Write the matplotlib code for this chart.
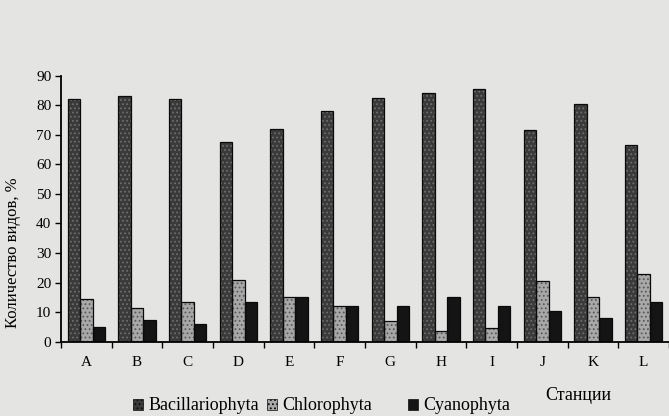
import matplotlib
matplotlib.use("Agg")
import matplotlib.pyplot as plt
import numpy as np

# station data, % of species
stations = ["A", "B", "C", "D", "E", "F", "G", "H", "I", "J", "K", "L"]
bacillariophyta = [82, 83, 82, 67.5, 72, 78, 82.5, 84, 85.5, 71.5, 80.5, 66.5]
chlorophyta = [14.5, 11.5, 13.5, 21, 15, 12, 7, 3.5, 4.5, 20.5, 15, 23]
cyanophyta = [5, 7.5, 6, 13.5, 15, 12, 12, 15, 12, 10.5, 8, 13.5]
series_names = ["Bacillariophyta", "Chlorophyta", "Cyanophyta"]

plt.rcParams['font.family'] = ['Liberation Serif', 'DejaVu Serif']
plt.rcParams['hatch.linewidth'] = 0.8

bg = "#e4e4e2"
fig = plt.figure(figsize=(6.69, 4.16), dpi=100, facecolor=bg)
ax = fig.add_axes([61/669, 74.3/416, 1 - 61/669, 0.6394])
ax.set_facecolor(bg)

x = np.arange(len(stations))
w = 0.245
b1 = ax.bar(x - w, bacillariophyta, w, color="#3a3a3a", edgecolor="#0a0a0a",
            hatch="....", linewidth=0.9, label=series_names[0])
b2 = ax.bar(x, chlorophyta, w, color="#a8a8a8", edgecolor="#1a1a1a",
            hatch="....", linewidth=0.9, label=series_names[1])
b3 = ax.bar(x + w, cyanophyta, w, color="#141414", edgecolor="#0a0a0a",
            linewidth=0.9, label=series_names[2])
# hatch colour lighter for dark bars, black outline drawn on top
for p in b1:
    p.set_edgecolor("#6e6e6e")
    p.set_linewidth(0)
for p in b2:
    p.set_edgecolor("#5a5a5a")
    p.set_linewidth(0)
for p in list(b1) + list(b2):
    ax.add_patch(plt.Rectangle(p.get_xy(), p.get_width(), p.get_height(),
                               fill=False, edgecolor="#0a0a0a", linewidth=0.9))

ax.set_ylim(0, 90)
ax.set_xlim(-0.5, 11.46)
ax.set_yticks(range(0, 91, 10))
ax.set_xticks(x)
ax.set_xticklabels(stations)
ax.set_xticks(np.arange(-0.5, 12, 1), minor=True)
ax.tick_params(axis="x", which="major", length=0, pad=10, labelsize=11)
ax.tick_params(axis="x", which="minor", length=4, direction="out", width=1)
ax.tick_params(axis="y", length=4, direction="out", width=1, labelsize=11, pad=3)

for s in ["top", "right"]:
    ax.spines[s].set_visible(False)
ax.spines["left"].set_linewidth(1.3)
ax.spines["bottom"].set_linewidth(1.3)

ax.set_ylabel("Количество видов, %", fontsize=12)
ax.yaxis.set_label_coords(-0.066, 0.335)
fig.text(545/669, 1 - 396/416, "Станции", fontsize=13, va="center", ha="left")

# legend entries placed one by one (uneven spacing as in the original)
leg_x = [133, 267, 408]
for bars, lx in zip([b1, b2, b3], leg_x):
    leg = fig.legend(handles=[bars], loc="center left", bbox_to_anchor=(lx/669, 1 - 406/416),
                     frameon=False, fontsize=13, handlelength=0.55, handleheight=0.55,
                     handletextpad=0.3, borderpad=0, borderaxespad=0)
    for h in leg.legend_handles:
        h.set_linewidth(0.5)
        h.set_edgecolor("#0a0a0a")

fig.savefig("out.png", dpi=100, facecolor=bg)
